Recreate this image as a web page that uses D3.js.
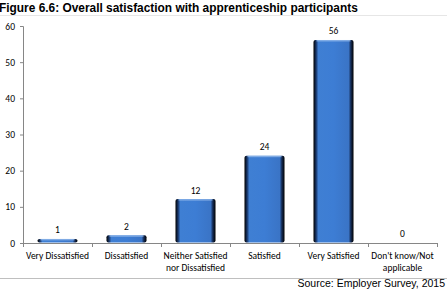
<!DOCTYPE html>
<html><head><meta charset="utf-8">
<script src="https://cdn.jsdelivr.net/npm/d3@7"></script>
<style>body{margin:0;background:#fff;} svg{display:block;}</style>
</head><body>
<script>
const categories = [["Very Dissatisfied"],["Dissatisfied"],["Neither Satisfied","nor Dissatisfied"],["Satisfied"],["Very Satisfied"],["Don't know/Not","applicable"]];
const values = [1,2,12,24,56,0];
const yTicks = [0,10,20,30,40,50,60];
const title = "Figure 6.6: Overall satisfaction with apprenticeship participants";
const source = "Source: Employer Survey, 2015";

const W=447,H=289;
const svg=d3.select("body").append("svg").attr("width",W).attr("height",H);
const defs=svg.append("defs");
const g1=defs.append("linearGradient").attr("id","bg").attr("x1",0).attr("x2",1).attr("y1",0).attr("y2",0);
[[0,"#000"],[0.07,"#1a3a70"],[0.12,"#3f7fd3"],[0.5,"#3d7dd4"],[0.88,"#3a74c6"],[0.93,"#152d58"],[1,"#000"]].forEach(s=>g1.append("stop").attr("offset",s[0]).attr("stop-color",s[1]));

svg.append("text").attr("x",-1).attr("y",12).attr("font-family","Liberation Sans, Arial").attr("font-weight","bold").attr("font-size",11.9).attr("fill","#000").text(title);
svg.append("line").attr("x1",0).attr("x2",W).attr("y1",15.5).attr("y2",15.5).attr("stroke","#e6e6e6");

const x=d3.scaleBand().domain(d3.range(categories.length)).range([23,437]).paddingInner(0.42).paddingOuter(0.21);
const y=d3.scaleLinear().domain([0,60]).range([243,26]);

const ya=svg.append("g").attr("transform","translate(23,0)").call(d3.axisLeft(y).tickValues(yTicks).tickSize(3).tickPadding(5));
ya.select(".domain").attr("stroke","#868686").attr("d","M-3,26.5H0.5V243.5");
ya.selectAll(".tick line").attr("stroke","#868686");
ya.selectAll("text").attr("font-family","Carlito, Lato, sans-serif").attr("font-size",9.5).attr("fill","#000");

const xb=d3.scaleLinear().domain([0,categories.length]).range([23,437]);
const xa=svg.append("g").attr("transform","translate(0,243)");
xa.append("line").attr("x1",23).attr("x2",437).attr("y1",0.5).attr("y2",0.5).attr("stroke","#868686");
xa.selectAll("line.t").data(d3.range(categories.length+1)).join("line").attr("class","t")
 .attr("x1",d=>Math.round(xb(d))+0.5).attr("x2",d=>Math.round(xb(d))+0.5).attr("y1",0).attr("y2",4).attr("stroke","#868686");

const bw=x.bandwidth();
svg.selectAll("rect.bar").data(values).join("rect").attr("class","bar")
 .attr("x",(d,i)=>x(i)).attr("width",bw)
 .attr("y",d=>y(d)-0.5).attr("height",d=>Math.max(0,y(0)-y(d)))
 .attr("rx",2).attr("fill","url(#bg)");
svg.selectAll("rect.hl").data(values).join("rect").attr("class","hl")
 .attr("x",(d,i)=>x(i)+3).attr("width",bw-6)
 .attr("y",d=>y(d)-0.5).attr("height",d=>d>0?1.5:0).attr("fill","#9cc0ee").attr("opacity",0.7);

svg.selectAll("text.val").data(values).join("text").attr("class","val")
 .attr("x",(d,i)=>x(i)+bw/2).attr("y",d=>y(d)-6).attr("text-anchor","middle")
 .attr("font-family","Carlito, Lato, sans-serif").attr("font-size",9.5).attr("fill","#000").text(d=>d);

categories.forEach((c,i)=>{
  const t=svg.append("text").attr("x",x(i)+bw/2).attr("y",259).attr("text-anchor","middle")
   .attr("font-family","Carlito, Lato, sans-serif").attr("font-size",9.5).attr("fill","#000");
  c.forEach((s,j)=>t.append("tspan").attr("x",x(i)+bw/2).attr("dy",j?12:0).text(s));
});

svg.append("line").attr("x1",0).attr("x2",W).attr("y1",278.5).attr("y2",278.5).attr("stroke","#bfbfbf");
svg.append("text").attr("x",445).attr("y",287).attr("text-anchor","end").attr("font-family","Liberation Sans, Arial").attr("font-size",10.5).attr("fill","#000").text(source);
</script>
</body></html>
